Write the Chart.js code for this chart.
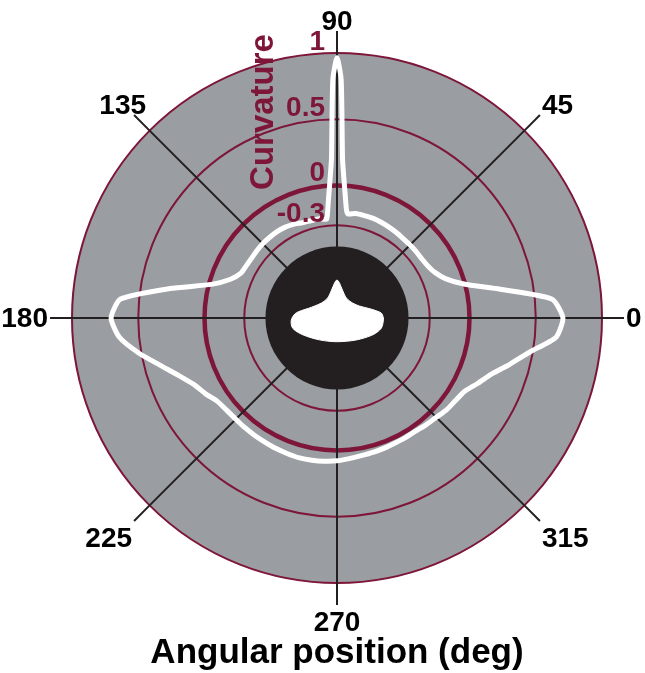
<!DOCTYPE html>
<html>
<head>
<meta charset="utf-8">
<script src="https://cdn.jsdelivr.net/npm/chart.js@4.4.1/dist/chart.umd.min.js"></script>
<style>
  html, body { margin: 0; padding: 0; background: #fff; }
  #wrap { width: 645px; height: 673px; position: relative; }
</style>
</head>
<body>
<div id="wrap"><canvas id="polarChart"></canvas></div>
<script>
// Curvature around the section outline, angle in degrees (0 = east, counter-clockwise)
const curveAngles = [
    0, 5, 10, 15, 20, 25, 30, 35, 40, 45, 50, 55, 60, 65, 70, 75, 80,
    84, 85, 86, 87, 88, 89, 90, 91, 92, 93, 94, 95, 96,
    100, 105, 110, 115, 120, 125, 130, 135, 140, 145, 150, 155, 160, 165, 170, 175, 180,
    185, 190, 195, 200, 205, 210, 215, 220, 225, 230, 235, 240, 245, 250, 255, 260, 265,
    270, 275, 280, 285, 290, 295, 300, 305, 310, 315, 320, 325, 330, 335, 340, 345, 350, 355
];
const curvature = [
    0.705, 0.63, 0.25, -0.01, -0.13, -0.185, -0.21, -0.22, -0.22, -0.22, -0.22, -0.215, -0.21, -0.205, -0.2, -0.2, -0.2,
    -0.21, -0.18, -0.09, 0.03, 0.2, 0.8, 0.965, 0.8, 0.2, 0.03, -0.09, -0.19, -0.25,
    -0.24, -0.24, -0.235, -0.22, -0.21, -0.206, -0.207, -0.207, -0.21, -0.213, -0.21, -0.2, -0.145, -0.02, 0.28, 0.64, 0.705,
    0.65, 0.52, 0.38, 0.27, 0.19, 0.145, 0.10, 0.085, 0.08, 0.081, 0.082, 0.083, 0.087, 0.09, 0.093, 0.09, 0.085,
    0.078, 0.065, 0.055, 0.05, 0.045, 0.04, 0.04, 0.04, 0.05, 0.06, 0.079, 0.09, 0.11, 0.17, 0.24, 0.35, 0.478, 0.66
];

// Section outline drawn in the middle (same radial units)
const shapeAngles = [0, 6, 12, 19, 28, 44, 65, 79, 86, 90, 94, 101, 115, 136, 152, 161, 168, 174, 183, 193, 206, 231, 268, 311, 335, 347, 357];
const shapeRadius = [
    -0.65, -0.662, -0.713, -0.765, -0.808, -0.837, -0.833, -0.785, -0.735, -0.713, -0.735, -0.785, -0.833,
    -0.837, -0.808, -0.774, -0.728, -0.683, -0.654, -0.657, -0.712, -0.788, -0.821, -0.78, -0.701, -0.657, -0.649
];

// Radial rings and compass labels
const ringValues = [-1, -0.3, 0, 0.5, 1];
const ringLabels = ['-0.3', '0', '0.5', '1'];
const compassAngles = [0, 45, 90, 135, 180, 225, 270, 315];

const RED = '#7d1638';
const GRAY = '#9a9da1';
const INK = '#231f20';
const DISC_EDGE = -0.46;
const FONT = '"Liberation Sans", Arial, sans-serif';

// radar goes clockwise from the start angle, so index i sits at (360 - i) degrees
const angleLabels = Array.from({ length: 360 }, (_, i) => (360 - i) % 360);
const indexOf = a => (360 - a) % 360;

function toRadar(angles, values) {
    const out = new Array(360).fill(null);
    angles.forEach((a, k) => { out[indexOf(a)] = values[k]; });
    return out;
}

const polarDecor = {
    id: 'polarDecor',
    beforeDraw(chart) {
        const r = chart.scales.r;
        const ctx = chart.ctx;
        ctx.save();
        ctx.fillStyle = GRAY;
        ctx.beginPath();
        ctx.arc(r.xCenter, r.yCenter, r.drawingArea, 0, Math.PI * 2);
        ctx.fill();
        ctx.restore();
    },
    beforeDatasetsDraw(chart) {
        const r = chart.scales.r;
        const ctx = chart.ctx;
        const R = r.drawingArea;
        ctx.save();
        // angle lines run a little past the outer ring
        ctx.strokeStyle = INK;
        ctx.lineWidth = 2;
        compassAngles.forEach(a => {
            const p0 = r.getPointPosition(indexOf(a), R);
            const p1 = r.getPointPosition(indexOf(a), R + 22);
            ctx.beginPath();
            ctx.moveTo(p0.x, p0.y);
            ctx.lineTo(p1.x, p1.y);
            ctx.stroke();
        });
        // dark disc behind the section
        ctx.fillStyle = INK;
        ctx.beginPath();
        ctx.arc(r.xCenter, r.yCenter, r.getDistanceFromCenterForValue(DISC_EDGE), 0, Math.PI * 2);
        ctx.fill();
        ctx.restore();
    },
    afterDraw(chart) {
        const r = chart.scales.r;
        const ctx = chart.ctx;
        const R = r.drawingArea;
        ctx.save();

        // compass labels
        ctx.fillStyle = '#000';
        ctx.font = 'bold 28px ' + FONT;
        compassAngles.forEach(a => {
            const p = r.getPointPosition(indexOf(a), R + 22);
            const c = Math.cos(a * Math.PI / 180);
            const s = Math.sin(a * Math.PI / 180);
            ctx.textAlign = c > 0.1 ? 'left' : (c < -0.1 ? 'right' : 'center');
            ctx.textBaseline = s > 0.1 ? 'alphabetic' : (s < -0.1 ? 'top' : 'middle');
            let x = p.x + (c > 0.1 ? 2 : (c < -0.1 ? -2 : 0));
            let y = p.y + (s > 0.1 ? -1 : (s < -0.1 ? 4 : 1));
            if (a === 135) x += 14;
            ctx.fillText(String(a), x, y);
        });

        // ring values, just above each ring, left of the vertical axis
        ctx.fillStyle = RED;
        ctx.font = 'bold 28px ' + FONT;
        ctx.textAlign = 'right';
        ctx.textBaseline = 'alphabetic';
        ringValues.slice(1).forEach((v, k) => {
            const y = r.yCenter - r.getDistanceFromCenterForValue(v) - (v === 0 ? 5 : 3);
            ctx.fillText(ringLabels[k], r.xCenter - 12, y);
        });

        // radial axis title
        ctx.font = 'bold 33px ' + FONT;
        ctx.textAlign = 'center';
        ctx.textBaseline = 'middle';
        ctx.translate(r.xCenter - 73, 112);
        ctx.rotate(-Math.PI / 2);
        ctx.fillText('Curvature', 0, 0);
        ctx.restore();

        // angular axis title
        ctx.save();
        ctx.fillStyle = '#000';
        ctx.font = 'bold 35px ' + FONT;
        ctx.textAlign = 'center';
        ctx.textBaseline = 'alphabetic';
        ctx.fillText('Angular position (deg)', r.xCenter, 663);
        ctx.restore();
    }
};

new Chart(document.getElementById('polarChart'), {
    type: 'radar',
    data: {
        labels: angleLabels,
        datasets: [
            {
                label: 'Curvature',
                data: toRadar(curveAngles, curvature),
                borderColor: '#ffffff',
                borderWidth: 5,
                borderJoinStyle: 'round',
                borderCapStyle: 'round',
                pointRadius: 0,
                fill: false,
                spanGaps: true,
                tension: 0.2
            },
            {
                label: 'Section',
                data: toRadar(shapeAngles, shapeRadius),
                borderColor: '#ffffff',
                backgroundColor: '#ffffff',
                borderWidth: 1,
                pointRadius: 0,
                fill: 'start',
                spanGaps: true,
                tension: 0.3
            }
        ]
    },
    options: {
        responsive: true,
        maintainAspectRatio: false,
        animation: false,
        events: [],
        layout: { padding: { left: 72, right: 42, top: 53, bottom: 90 } },
        plugins: {
            legend: { display: false },
            tooltip: { enabled: false }
        },
        scales: {
            r: {
                min: -1,
                max: 1,
                startAngle: 90,
                afterBuildTicks: scale => {
                    scale.ticks = ringValues.map(v => ({ value: v }));
                },
                ticks: { display: false },
                pointLabels: { display: false },
                grid: {
                    circular: true,
                    color: RED,
                    lineWidth: ctx => ctx.tick.value === -1 ? 0 : (ctx.tick.value === 0 ? 4.5 : 2)
                },
                angleLines: {
                    color: INK,
                    lineWidth: ctx => ctx.index % 45 === 0 ? 2 : 0
                }
            }
        }
    },
    plugins: [polarDecor]
});
</script>
</body>
</html>
